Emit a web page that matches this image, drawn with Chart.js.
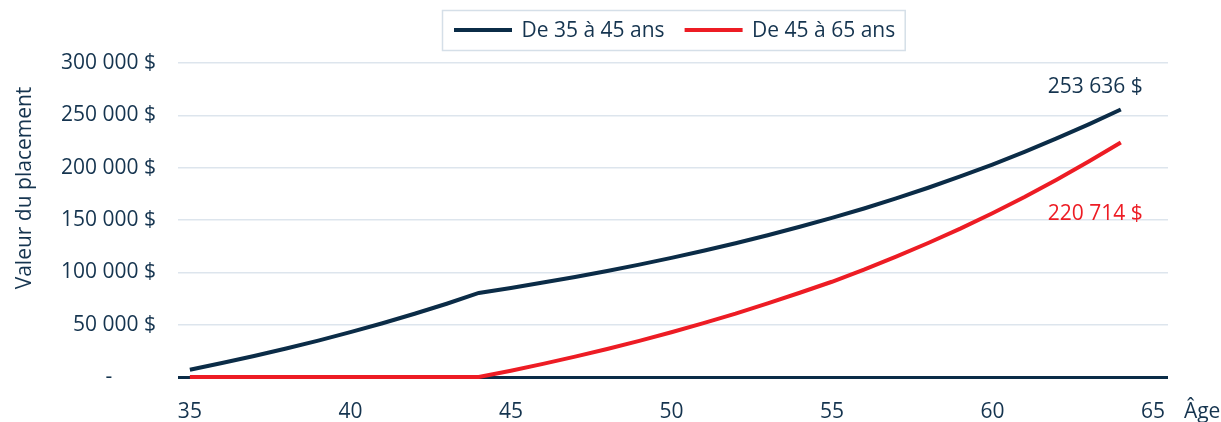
<!DOCTYPE html>
<html>
<head>
<meta charset="utf-8">
<script src="https://cdn.jsdelivr.net/npm/chart.js@4/dist/chart.umd.min.js"></script>
<style>
  html, body { margin: 0; padding: 0; background: #ffffff; }
  #wrap { width: 1221px; height: 422px; }
</style>
</head>
<body>
<div id="wrap"><canvas id="c" width="1221" height="422"></canvas></div>
<script>
// ---- data ----
const ages = [35,36,37,38,39,40,41,42,43,44,45,46,47,48,49,50,51,52,53,54,55,56,57,58,59,60,61,62,63,64];
const serie35a45 = [7000,13300,20000,27200,34800,42900,51400,60400,70000,80300,85100,90200,95600,101300,107400,113800,120600,127800,135400,143500,152000,161000,170600,180800,191600,203000,215100,227900,241400,255600];
const serie45a65 = [0,0,0,0,0,0,0,0,0,0,6000,12500,19500,26800,34500,42800,51500,60500,70300,80500,91000,102500,115000,128000,141800,156500,172000,188500,205800,224000];
const seriesLabels = ['De 35 à 45 ans', 'De 45 à 65 ans'];
const endLabels = ['253 636 $', '220 714 $'];
const xTicks = [35,40,45,50,55,60,65];
const yTicks = [0,50000,100000,150000,200000,250000,300000];
const yTickLabels = ['-\u00a0\u00a0\u00a0\u00a0\u00a0\u00a0\u00a0\u00a0', '50 000 $', '100 000 $', '150 000 $', '200 000 $', '250 000 $', '300 000 $'];
const yTitle = 'Valeur du placement';
const xTitle = 'Âge';

// ---- styles ----
const NAVY = '#0b2c47';
const TEXT = '#15344f';
const RED = '#ed1c24';
const GRID = '#dde5ed';
const FONT = 'Open Sans';
const FS = 21;

const overlay = {
  id: 'overlay',
  afterDraw(chart) {
    const ctx = chart.ctx;
    ctx.save();
    ctx.font = FS + 'px "' + FONT + '"';
    // legend
    let x = 454;
    const ly = 30;
    const items = [];
    chart.data.datasets.forEach((ds) => {
      const tw = ctx.measureText(ds.label).width;
      items.push({ x, tw, ds });
      x += 58 + 9.5 + tw + 20;
    });
    const endX = x - 20;
    ctx.strokeStyle = '#d5dfe8';
    ctx.lineWidth = 1.5;
    ctx.strokeRect(442.5, 10.5, endX + 10 - 442.5, 40);
    items.forEach((it) => {
      ctx.strokeStyle = it.ds.borderColor;
      ctx.lineWidth = 4;
      ctx.beginPath();
      ctx.moveTo(it.x, ly);
      ctx.lineTo(it.x + 58, ly);
      ctx.stroke();
      ctx.fillStyle = TEXT;
      ctx.textAlign = 'left';
      ctx.textBaseline = 'middle';
      ctx.fillText(it.ds.label, it.x + 58 + 9.5, ly + 1);
    });
    // end labels
    const colors = [TEXT, RED];
    const offs = [-22, 71];
    chart.data.datasets.forEach((ds, i) => {
      const meta = chart.getDatasetMeta(i);
      const pt = meta.data[meta.data.length - 1];
      ctx.fillStyle = colors[i];
      ctx.textAlign = 'right';
      ctx.textBaseline = 'middle';
      ctx.fillText(endLabels[i], pt.x + 22, pt.y + offs[i]);
    });
    // axis titles
    ctx.fillStyle = TEXT;
    ctx.textAlign = 'left';
    ctx.textBaseline = 'middle';
    const xs = chart.scales.x;
    ctx.fillText(xTitle, xs.getPixelForValue(65) + 31, 412);
    ctx.translate(25, 188);
    ctx.rotate(-Math.PI / 2);
    ctx.textAlign = 'center';
    ctx.fillText(yTitle, 0, 0);
    ctx.restore();
  }
};

new Chart(document.getElementById('c'), {
  type: 'line',
  data: {
    datasets: [
      {
        label: seriesLabels[0],
        data: ages.map((a, i) => ({ x: a, y: serie35a45[i] })),
        borderColor: NAVY,
        backgroundColor: NAVY,
        borderWidth: 4,
        pointRadius: 0,
        tension: 0,
        clip: false
      },
      {
        label: seriesLabels[1],
        data: ages.map((a, i) => ({ x: a, y: serie45a65[i] })),
        borderColor: RED,
        backgroundColor: RED,
        borderWidth: 4,
        pointRadius: 0,
        tension: 0,
        clip: false
      }
    ]
  },
  options: {
    responsive: false,
    animation: false,
    devicePixelRatio: 1,
    layout: { padding: { left: 0, right: 53, top: 63, bottom: 0 } },
    plugins: {
      legend: { display: false },
      tooltip: { enabled: false },
      title: { display: false }
    },
    scales: {
      x: {
        type: 'linear',
        min: 34.63,
        max: 65.47,
        afterBuildTicks: (s) => { s.ticks = xTicks.map(v => ({ value: v })); },
        afterFit: (s) => { s.height = 45; },
        grid: { display: false, drawTicks: false },
        border: { display: false },
        ticks: {
          autoSkip: false,
          maxRotation: 0,
          padding: 22,
          color: TEXT,
          font: { family: FONT, size: FS },
          callback: (v) => String(v)
        }
      },
      y: {
        min: 0,
        max: 300000,
        afterBuildTicks: (s) => { s.ticks = yTicks.map(v => ({ value: v })); },
        afterFit: (s) => { s.width = 178; },
        grid: {
          drawTicks: false,
          color: (c) => (c.tick && c.tick.value === 0) ? NAVY : GRID,
          lineWidth: (c) => (c.tick && c.tick.value === 0) ? 3 : 1.5
        },
        border: { display: false },
        ticks: {
          padding: 22,
          color: TEXT,
          font: { family: FONT, size: FS },
          callback: (v, i) => yTickLabels[i]
        }
      }
    }
  },
  plugins: [overlay]
});
</script>
</body>
</html>
